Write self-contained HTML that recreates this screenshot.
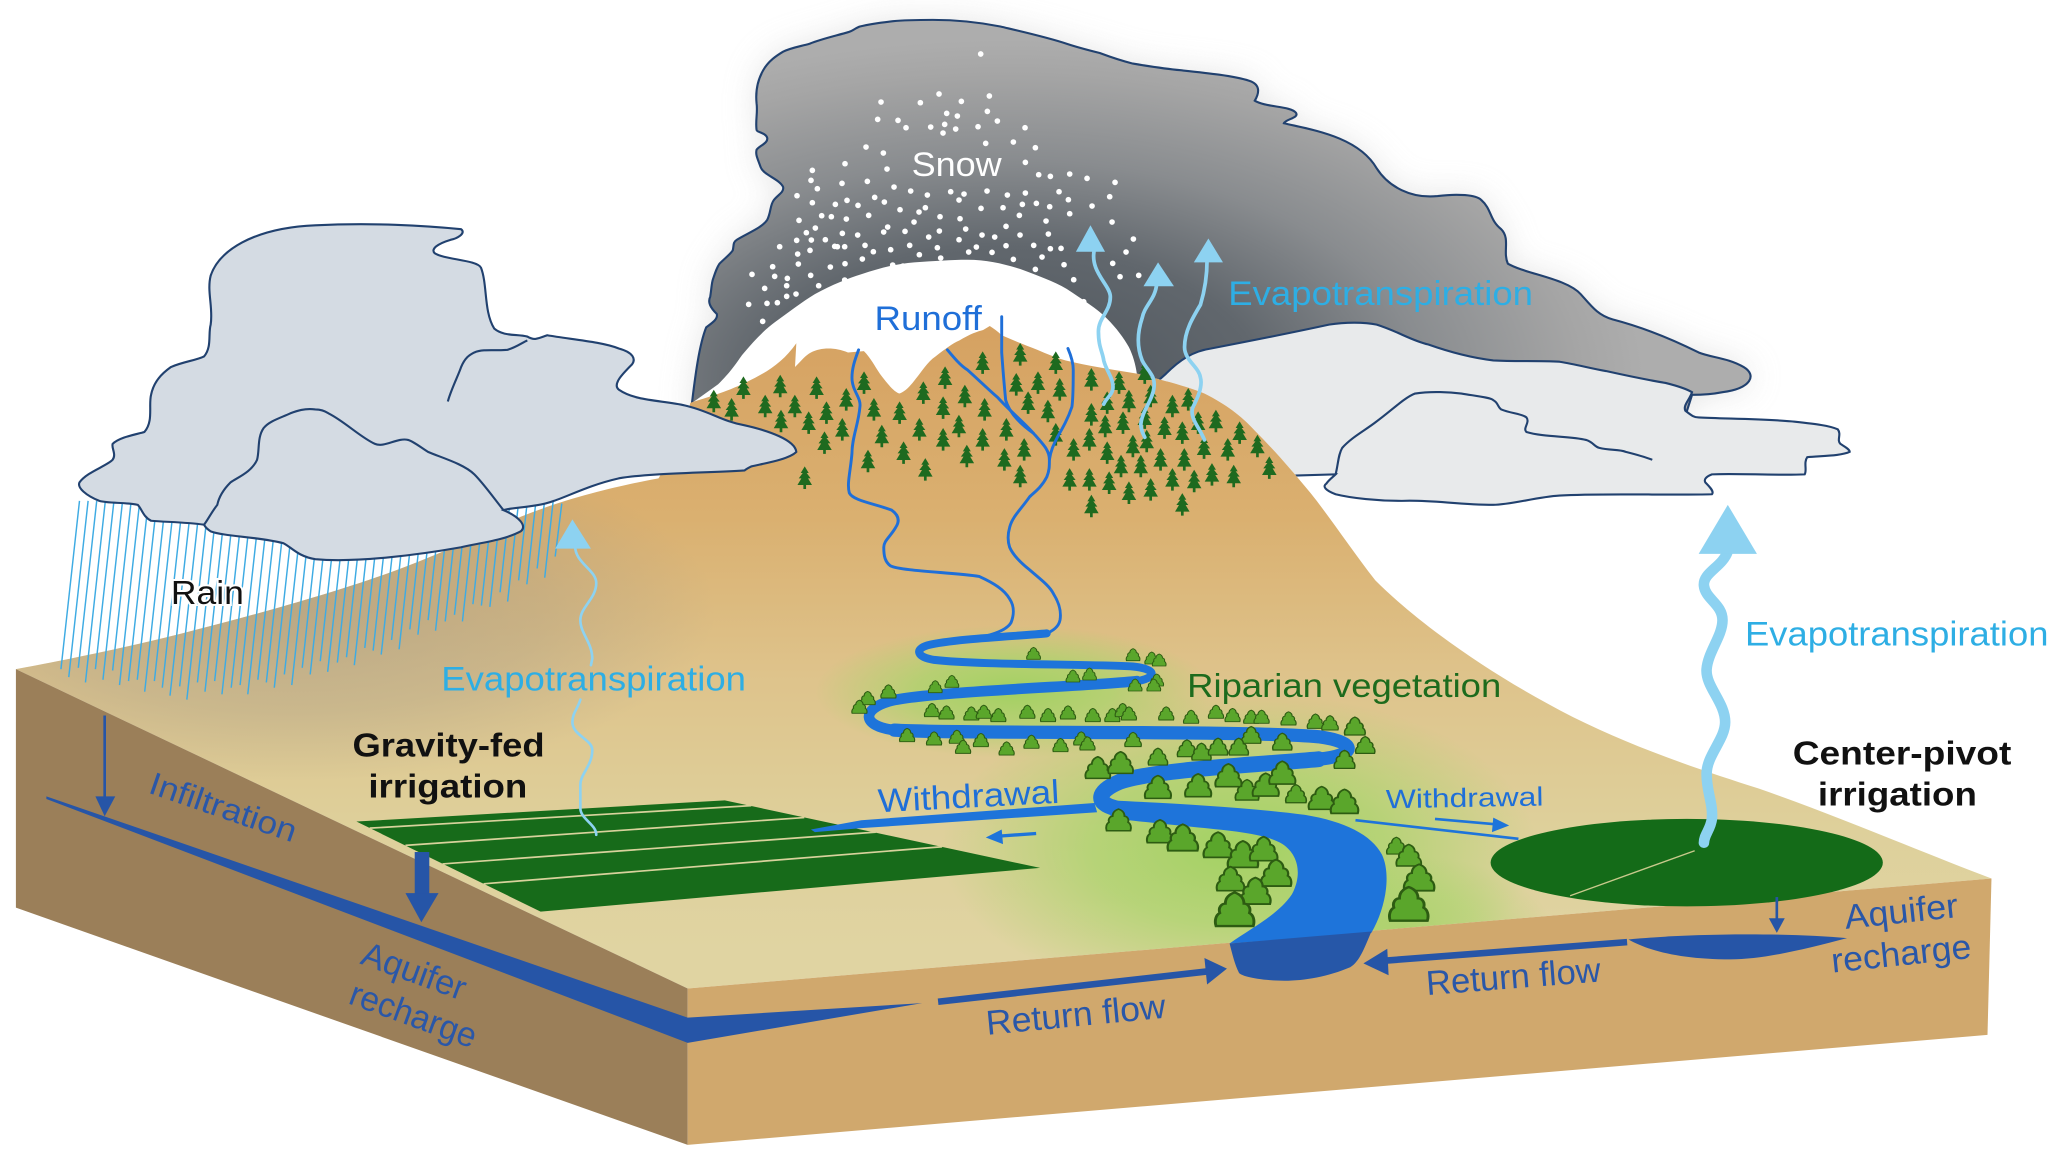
<!DOCTYPE html>
<html><head><meta charset="utf-8"><style>html,body{margin:0;padding:0;background:#fff;}svg{display:block;}</style></head>
<body>
<svg width="2067" height="1165" viewBox="0 0 1560 879.2" preserveAspectRatio="none" xmlns="http://www.w3.org/2000/svg" xmlns:xlink="http://www.w3.org/1999/xlink" font-family="'Liberation Sans', Arial, sans-serif">
<defs>
  <radialGradient id="dark" gradientUnits="userSpaceOnUse" cx="760" cy="290" r="260" gradientTransform="translate(760,290) scale(1.85,1) translate(-760,-290)">
    <stop offset="0" stop-color="#4d545b"/>
    <stop offset="0.4" stop-color="#61676d"/>
    <stop offset="0.65" stop-color="#898c8f"/>
    <stop offset="0.9" stop-color="#a5a5a5"/>
    <stop offset="1" stop-color="#adadad"/>
  </radialGradient>
  <linearGradient id="land" gradientUnits="userSpaceOnUse" x1="0" y1="250" x2="0" y2="720">
    <stop offset="0" stop-color="#d6a262"/>
    <stop offset="0.3" stop-color="#dab070"/>
    <stop offset="0.55" stop-color="#dec38b"/>
    <stop offset="0.8" stop-color="#ded09b"/>
    <stop offset="1" stop-color="#e0d4a2"/>
  </linearGradient>
  <radialGradient id="rainsh">
    <stop offset="0" stop-color="#989488" stop-opacity="0.5"/>
    <stop offset="0.6" stop-color="#989488" stop-opacity="0.28"/>
    <stop offset="1" stop-color="#989488" stop-opacity="0"/>
  </radialGradient>
  <radialGradient id="glow">
    <stop offset="0" stop-color="#9fd15f" stop-opacity="0.95"/>
    <stop offset="0.5" stop-color="#a6d468" stop-opacity="0.7"/>
    <stop offset="1" stop-color="#a6d468" stop-opacity="0"/>
  </radialGradient>
  <filter id="blur" x="-20%" y="-20%" width="140%" height="140%"><feGaussianBlur stdDeviation="12"/></filter>
  <clipPath id="landclip">
    <path d="M12,505 C40,500 100,488 149,475 C200,462 260,445 300,430 C340,415 370,400 393,390 C430,375 470,366 497,361 L515,330 L521,305 L858,282 C870,285 895,291 909,297 C925,305 937,314 947,325 C962,340 975,355 989,372 C1005,392 1020,415 1038,438 C1070,470 1120,505 1168,531 C1220,560 1280,580 1327,595 C1390,617 1450,643 1503,663 L519,746 Z"/>
  </clipPath>
  <path id="tree" d="M0,-35.8 L-10.1,-15.9 L-5,-15.9 L-15.1,0 L-8.4,0 L-18.4,19.9 L-3.4,19.9 L-3.4,31.8 L3.4,31.8 L3.4,19.9 L18.4,19.9 L8.4,0 L15.1,0 L5,-15.9 L10.1,-15.9 Z"/>
  <path id="bush" d="M-32,0 C-35.2,-12 -32,-24 -25.6,-28 C-28.8,-40 -22.4,-48 -16,-48 C-16,-60 -9.6,-68 0,-72 C9.6,-68 16,-60 16,-48 C22.4,-48 28.8,-40 25.6,-28 C32,-24 35.2,-12 32,0 Z"/>
  <path id="dcloud" d="M522,306 C524,290 527,262 533,247 C537,244 542,241 541,237 C536,232 534,228 536,224 C537,218 537,214 538,211 C540,205 541,202 543,199 C547,195 551,192 553,189 C554,185 553,183 556,181 C564,176 575,172 579,166 C582,160 581,155 584,151 C587,147 592,145 591,141 C588,135 576,132 574,126 C572,120 570,117 571,113 C573,110 580,108 579,104 C578,100 571,100 571,98 C570,91 572,85 571,78 C570,68 572,60 576,53 C580,46 586,42 591,39 C597,36 604,35 611,33 C621,29 631,27 641,24 C644,23 646,21 649,20 C657,18 665,17 674,16 C684,15 694,15 704,15 C722,15 740,17 755,20 C772,24 790,28 805,33 C814,36 822,38 830,40 C838,43 847,46 855,48 C867,50 880,52 891,53 C910,55 930,57 943,61 C952,64 950,71 947,76 C955,81 974,80 978,85 C981,89 970,90 969,93 C990,98 1025,103 1039,127 C1048,141 1065,150 1085,148 C1100,146 1114,147 1118,151 C1126,158 1124,166 1133,173 C1140,180 1134,190 1138,199 C1152,207 1182,210 1193,222 C1201,231 1206,238 1217,241 C1240,247 1262,256 1282,266 C1292,270 1304,270 1316,277 C1326,283 1322,293 1300,296 C1290,298 1283,298 1277,298 L1270,320 L1000,320 L880,330 L700,330 L530,330 Z"/>
</defs>

<rect width="1560" height="880" fill="#fff"/>

<!-- dark storm cloud -->
<use xlink:href="#dcloud" fill="#cfcfcf" opacity="0.55" filter="url(#blur)"/>
<use xlink:href="#dcloud" fill="url(#dark)" stroke="#21416f" stroke-width="1.6"/>
<!-- snow dots -->
<g transform="translate(528.3,15.1) scale(0.2516)" fill="#fff">
<circle cx="842" cy="102" r="8.5"/><circle cx="717" cy="222" r="8.5"/><circle cx="868" cy="228" r="8.5"/><circle cx="543" cy="246" r="8.5"/><circle cx="661" cy="248" r="8.5"/><circle cx="784" cy="244" r="8.5"/>
<circle cx="740" cy="280" r="8.5"/><circle cx="772" cy="288" r="8.5"/><circle cx="862" cy="274" r="8.5"/><circle cx="533" cy="298" r="8.5"/><circle cx="594" cy="301" r="8.5"/><circle cx="892" cy="303" r="8.5"/><circle cx="618" cy="323" r="8.5"/><circle cx="692" cy="321" r="8.5"/><circle cx="734" cy="313" r="8.5"/><circle cx="767" cy="327" r="8.5"/><circle cx="729" cy="339" r="8.5"/><circle cx="834" cy="320" r="8.5"/><circle cx="975" cy="323" r="8.5"/>
<circle cx="857" cy="370" r="8.5"/><circle cx="940" cy="366" r="8.5"/><circle cx="498" cy="381" r="8.5"/><circle cx="550" cy="399" r="8.5"/><circle cx="1006" cy="383" r="8.5"/>
<circle cx="435" cy="431" r="8.5"/><circle cx="337" cy="451" r="8.5"/><circle cx="561" cy="447" r="8.5"/><circle cx="976" cy="427" r="8.5"/>
<circle cx="333" cy="481" r="8.5"/><circle cx="426" cy="490" r="8.5"/><circle cx="502" cy="484" r="8.5"/><circle cx="1016" cy="464" r="8.5"/><circle cx="1051" cy="469" r="8.5"/><circle cx="1109" cy="462" r="8.5"/><circle cx="1161" cy="475" r="8.5"/><circle cx="1245" cy="487" r="8.5"/>
<circle cx="352" cy="506" r="8.5"/><circle cx="291" cy="527" r="8.5"/><circle cx="582" cy="501" r="8.5"/><circle cx="632" cy="513" r="8.5"/><circle cx="682" cy="525" r="8.5"/><circle cx="524" cy="532" r="8.5"/><circle cx="752" cy="515" r="8.5"/><circle cx="792" cy="522" r="8.5"/><circle cx="861" cy="513" r="8.5"/><circle cx="922" cy="525" r="8.5"/><circle cx="976" cy="519" r="8.5"/><circle cx="1077" cy="515" r="8.5"/><circle cx="1229" cy="530" r="8.5"/>
<circle cx="337" cy="548" r="8.5"/><circle cx="406" cy="553" r="8.5"/><circle cx="441" cy="541" r="8.5"/><circle cx="474" cy="556" r="8.5"/><circle cx="553" cy="546" r="8.5"/><circle cx="777" cy="540" r="8.5"/><circle cx="1009" cy="550" r="8.5"/><circle cx="1049" cy="560" r="8.5"/><circle cx="1105" cy="539" r="8.5"/><circle cx="1176" cy="558" r="8.5"/>
<circle cx="600" cy="569" r="8.5"/><circle cx="657" cy="576" r="8.5"/><circle cx="676" cy="563" r="8.5"/><circle cx="843" cy="565" r="8.5"/><circle cx="909" cy="563" r="8.5"/><circle cx="967" cy="553" r="8.5"/>
<circle cx="297" cy="601" r="8.5"/><circle cx="365" cy="587" r="8.5"/><circle cx="394" cy="590" r="8.5"/><circle cx="439" cy="597" r="8.5"/><circle cx="506" cy="586" r="8.5"/><circle cx="720" cy="590" r="8.5"/><circle cx="780" cy="596" r="8.5"/><circle cx="958" cy="586" r="8.5"/><circle cx="1038" cy="603" r="8.5"/><circle cx="1109" cy="581" r="8.5"/><circle cx="1236" cy="606" r="8.5"/>
<circle cx="346" cy="624" r="8.5"/><circle cx="319" cy="638" r="8.5"/><circle cx="427" cy="640" r="8.5"/><circle cx="473" cy="645" r="8.5"/><circle cx="551" cy="636" r="8.5"/><circle cx="563" cy="621" r="8.5"/><circle cx="615" cy="634" r="8.5"/><circle cx="642" cy="606" r="8.5"/><circle cx="718" cy="633" r="8.5"/><circle cx="797" cy="627" r="8.5"/><circle cx="846" cy="645" r="8.5"/><circle cx="884" cy="651" r="8.5"/><circle cx="918" cy="619" r="8.5"/><circle cx="960" cy="645" r="8.5"/><circle cx="1045" cy="642" r="8.5"/>
<circle cx="290" cy="661" r="8.5"/><circle cx="334" cy="660" r="8.5"/><circle cx="376" cy="659" r="8.5"/><circle cx="412" cy="680" r="8.5"/><circle cx="434" cy="680" r="8.5"/><circle cx="495" cy="676" r="8.5"/><circle cx="572" cy="689" r="8.5"/><circle cx="629" cy="676" r="8.5"/><circle cx="686" cy="651" r="8.5"/><circle cx="712" cy="683" r="8.5"/><circle cx="777" cy="659" r="8.5"/><circle cx="829" cy="681" r="8.5"/><circle cx="876" cy="697" r="8.5"/><circle cx="918" cy="677" r="8.5"/><circle cx="1001" cy="676" r="8.5"/><circle cx="1051" cy="686" r="8.5"/><circle cx="1083" cy="685" r="8.5"/><circle cx="1300" cy="657" r="8.5"/>
<circle cx="239" cy="680" r="8.5"/><circle cx="293" cy="702" r="8.5"/><circle cx="330" cy="691" r="8.5"/><circle cx="404" cy="679" r="8.5"/><circle cx="487" cy="717" r="8.5"/><circle cx="520" cy="695" r="8.5"/><circle cx="658" cy="704" r="8.5"/><circle cx="722" cy="714" r="8.5"/><circle cx="806" cy="696" r="8.5"/><circle cx="940" cy="718" r="8.5"/><circle cx="1026" cy="711" r="8.5"/><circle cx="1092" cy="734" r="8.5"/><circle cx="1278" cy="696" r="8.5"/><circle cx="1238" cy="730" r="8.5"/>
<circle cx="218" cy="740" r="8.5"/><circle cx="295" cy="732" r="8.5"/><circle cx="391" cy="741" r="8.5"/><circle cx="435" cy="731" r="8.5"/><circle cx="578" cy="735" r="8.5"/><circle cx="609" cy="738" r="8.5"/><circle cx="1006" cy="748" r="8.5"/><circle cx="1121" cy="779" r="8.5"/><circle cx="1260" cy="770" r="8.5"/><circle cx="1316" cy="766" r="8.5"/>
<circle cx="156" cy="763" r="8.5"/><circle cx="224" cy="769" r="8.5"/><circle cx="262" cy="775" r="8.5"/><circle cx="332" cy="766" r="8.5"/><circle cx="545" cy="772" r="8.5"/><circle cx="969" cy="760" r="8.5"/>
<circle cx="194" cy="805" r="8.5"/><circle cx="260" cy="797" r="8.5"/><circle cx="356" cy="797" r="8.5"/><circle cx="413" cy="804" r="8.5"/><circle cx="434" cy="780" r="8.5"/><circle cx="483" cy="792" r="8.5"/><circle cx="1043" cy="801" r="8.5"/><circle cx="1077" cy="816" r="8.5"/>
<circle cx="146" cy="853" r="8.5"/><circle cx="201" cy="850" r="8.5"/><circle cx="232" cy="848" r="8.5"/><circle cx="260" cy="829" r="8.5"/><circle cx="288" cy="822" r="8.5"/><circle cx="1151" cy="845" r="8.5"/><circle cx="188" cy="904" r="8.5"/>
</g>

<!-- right light cloud -->
<path d="M860,300 L880,282 C890,272 900,265 914,263 C940,258 980,250 1003,245 C1015,243 1030,243 1039,245 C1055,250 1065,257 1078,260 C1095,266 1110,270 1127,272 C1145,273 1160,272 1177,273 C1190,275 1200,278 1212,280 C1230,284 1245,287 1257,289 C1265,291 1272,293 1277,296 C1275,302 1270,306 1272,310 C1276,313 1278,315 1282,315 C1300,316 1330,316 1352,318 C1370,320 1380,321 1387,324 C1390,328 1386,332 1389,335 C1392,337 1396,339 1396,341 C1390,344 1375,344 1364,345 C1361,349 1364,355 1362,358 C1340,359 1310,357 1292,358 C1287,360 1286,362 1287,364 C1290,367 1294,371 1292,373 C1260,374 1210,372 1177,374 C1160,375 1140,381 1127,381 C1100,381 1080,377 1058,378 C1040,378 1020,376 1008,373 C1000,370 998,367 1001,365 C1003,362 1006,360 1008,358 L974,359 L940,340 L880,310 Z" fill="#e8eaeb" stroke="#21416f" stroke-width="1.6"/>
<path d="M1008,358 C1010,350 1010,343 1013,338 C1020,330 1030,325 1039,318 C1050,310 1060,300 1068,297 C1080,295 1095,296 1103,297 C1115,299 1125,300 1127,302 C1131,304 1130,307 1133,309 C1140,312 1148,312 1152,315 C1155,319 1149,323 1152,326 C1165,330 1185,329 1197,332 C1203,334 1203,337 1207,338 C1215,340 1222,339 1227,341 C1235,343 1242,345 1247,347" fill="none" stroke="#21416f" stroke-width="1.6"/>

<!-- land / mountain -->
<path d="M12,505 C40,500 100,488 149,475 C200,462 260,445 300,430 C340,415 370,400 393,390 C430,375 470,366 497,361 L515,330 L521,305 C528,300 535,295 542,290 C552,280 555,275 560,268 C570,256 578,248 585,243 C595,236 605,228 615,222 C628,215 640,210 650,207 C665,202 677,199 690,198 C705,197 718,196 730,196 C745,196 757,199 770,203 C783,208 795,212 805,218 C817,226 828,233 835,240 C843,248 848,255 852,262 C855,268 857,275 858,282 C870,285 895,291 909,297 C925,305 937,314 947,325 C962,340 975,355 989,372 C1005,392 1020,415 1038,438 C1070,470 1120,505 1168,531 C1220,560 1280,580 1327,595 C1390,617 1450,643 1503,663 L519,746 Z" fill="#fff"/>
<path d="M12,505 C40,500 100,488 149,475 C200,462 260,445 300,430 C340,415 370,400 393,390 C430,375 470,366 497,361 L515,330 L521,304 C530,301 545,297 560,290 C575,283 590,275 601,259 L600,277 C605,272 608,268 612,266 C620,262 630,262 640,266 L652,265 C657,270 660,276 664,282 C670,290 675,296 679,297 C684,295 688,290 691,286 C696,280 700,273 706,269 C714,263 719,259 724,257 C732,252 738,250 742,249 L747,246 C750,248 753,250 756,253 C765,257 775,261 783,264 C790,267 797,270 804,272 C820,276 840,279 858,282 C870,285 895,291 909,297 C925,305 937,314 947,325 C962,340 975,355 989,372 C1005,392 1020,415 1038,438 C1070,470 1120,505 1168,531 C1220,560 1280,580 1327,595 C1390,617 1450,643 1503,663 L519,746 Z" fill="url(#land)"/>
<g clip-path="url(#landclip)">
  <ellipse cx="220" cy="460" rx="320" ry="130" fill="url(#rainsh)"/>
  <ellipse cx="935" cy="640" rx="225" ry="118" fill="url(#glow)"/>
  <ellipse cx="765" cy="522" rx="150" ry="50" fill="url(#glow)"/>
  <ellipse cx="1060" cy="700" rx="110" ry="55" fill="url(#glow)" opacity="0.7"/>
</g>

<!-- block faces -->
<polygon points="12,505 519,746 519,864 12,685" fill="#9b7f59"/>
<polygon points="519,746 1503,663 1500,781 519,864" fill="#d0a86d"/>

<!-- trees -->
<g transform="translate(520.8,166) scale(0.2984,0.2516)" fill="#1e6a1f">
<use xlink:href="#tree" x="60" y="545"/><use xlink:href="#tree" x="105" y="570"/><use xlink:href="#tree" x="135" y="505"/><use xlink:href="#tree" x="190" y="560"/><use xlink:href="#tree" x="228" y="500"/><use xlink:href="#tree" x="230" y="605"/><use xlink:href="#tree" x="265" y="560"/><use xlink:href="#tree" x="300" y="610"/><use xlink:href="#tree" x="290" y="775"/><use xlink:href="#tree" x="320" y="505"/><use xlink:href="#tree" x="345" y="580"/><use xlink:href="#tree" x="340" y="670"/><use xlink:href="#tree" x="385" y="630"/><use xlink:href="#tree" x="395" y="540"/><use xlink:href="#tree" x="440" y="490"/><use xlink:href="#tree" x="465" y="570"/><use xlink:href="#tree" x="485" y="650"/><use xlink:href="#tree" x="450" y="725"/><use xlink:href="#tree" x="530" y="580"/><use xlink:href="#tree" x="540" y="700"/><use xlink:href="#tree" x="580" y="630"/><use xlink:href="#tree" x="590" y="520"/><use xlink:href="#tree" x="595" y="750"/><use xlink:href="#tree" x="640" y="660"/><use xlink:href="#tree" x="645" y="475"/><use xlink:href="#tree" x="640" y="565"/><use xlink:href="#tree" x="680" y="620"/><use xlink:href="#tree" x="695" y="530"/><use xlink:href="#tree" x="700" y="710"/><use xlink:href="#tree" x="740" y="660"/><use xlink:href="#tree" x="745" y="570"/><use xlink:href="#tree" x="740" y="430"/><use xlink:href="#tree" x="795" y="720"/><use xlink:href="#tree" x="800" y="630"/><use xlink:href="#tree" x="835" y="405"/><use xlink:href="#tree" x="825" y="495"/><use xlink:href="#tree" x="845" y="690"/><use xlink:href="#tree" x="835" y="770"/><use xlink:href="#tree" x="855" y="550"/><use xlink:href="#tree" x="880" y="490"/><use xlink:href="#tree" x="905" y="575"/><use xlink:href="#tree" x="925" y="430"/><use xlink:href="#tree" x="935" y="510"/><use xlink:href="#tree" x="925" y="645"/><use xlink:href="#tree" x="970" y="690"/><use xlink:href="#tree" x="960" y="780"/><use xlink:href="#tree" x="1010" y="780"/><use xlink:href="#tree" x="1010" y="660"/><use xlink:href="#tree" x="1015" y="585"/><use xlink:href="#tree" x="1015" y="480"/><use xlink:href="#tree" x="1050" y="620"/><use xlink:href="#tree" x="1055" y="700"/><use xlink:href="#tree" x="1055" y="550"/><use xlink:href="#tree" x="1060" y="790"/><use xlink:href="#tree" x="1085" y="490"/><use xlink:href="#tree" x="1090" y="740"/><use xlink:href="#tree" x="1095" y="610"/><use xlink:href="#tree" x="1110" y="545"/><use xlink:href="#tree" x="1110" y="820"/><use xlink:href="#tree" x="1120" y="680"/><use xlink:href="#tree" x="1140" y="740"/><use xlink:href="#tree" x="1150" y="460"/><use xlink:href="#tree" x="1150" y="595"/><use xlink:href="#tree" x="1155" y="665"/><use xlink:href="#tree" x="1165" y="530"/><use xlink:href="#tree" x="1165" y="810"/><use xlink:href="#tree" x="1190" y="720"/><use xlink:href="#tree" x="1200" y="625"/><use xlink:href="#tree" x="1220" y="560"/><use xlink:href="#tree" x="1220" y="780"/><use xlink:href="#tree" x="1245" y="640"/><use xlink:href="#tree" x="1250" y="720"/><use xlink:href="#tree" x="1245" y="855"/><use xlink:href="#tree" x="1260" y="540"/><use xlink:href="#tree" x="1275" y="785"/><use xlink:href="#tree" x="1285" y="610"/><use xlink:href="#tree" x="1300" y="685"/><use xlink:href="#tree" x="1320" y="765"/><use xlink:href="#tree" x="1330" y="605"/><use xlink:href="#tree" x="1360" y="690"/><use xlink:href="#tree" x="1375" y="770"/><use xlink:href="#tree" x="1390" y="640"/><use xlink:href="#tree" x="1435" y="680"/><use xlink:href="#tree" x="1465" y="745"/><use xlink:href="#tree" x="1015" y="860"/>
</g>

<!-- runoff streams -->
<g fill="none" stroke="#1f6fd8" stroke-width="2.2" stroke-linecap="round">
  <path d="M648,264 C645,272 643,278 643,285 C643,295 650,300 649,307 C648,320 643,330 643,342 C642,355 639,365 641,372 C644,378 660,380 673,385 C680,390 678,395 676,398 C672,405 667,408 667,413 C667,420 668,424 672,427 C680,431 720,432 739,435 C750,440 758,445 762,452 C766,458 765,465 763,470 C760,475 752,478 744,480"/>
  <path d="M715,264 C720,270 725,276 730,279 C740,288 747,295 753,300 C762,310 772,318 780,327 C788,336 792,340 792,347 C792,352 792,355 790,360 C786,368 780,372 777,375 C770,385 764,390 762,398 C760,405 761,410 762,413 C765,420 772,426 777,430 C785,437 792,442 795,448 C800,456 801,462 800,468 C799,473 795,476 788,479"/>
  <path d="M756,239 L756,266 C757,280 758,292 759,302 C762,312 770,320 780,327"/>
  <path d="M806,263 C809,270 810,275 810,279 C810,290 810,300 809,307 C806,316 802,323 798,330 C795,336 793,340 792,347"/>
</g>

<!-- river -->
<g fill="none" stroke="#1e74da" stroke-linecap="round" stroke-linejoin="round">
  <path d="M790,478 C770,480 720,482 700,487 C690,490 692,496 705,498 C740,502 820,501 855,503 C875,505 872,512 858,514" stroke-width="6"/>
  <path d="M858,514 C820,518 700,522 672,529 C650,535 650,548 675,551" stroke-width="8"/>
  <path d="M675,551 C720,554 940,551 995,556 C1025,560 1025,570 995,573" stroke-width="10"/>
  <path d="M995,573 C950,577 870,581 845,590 C828,597 826,606 842,610" stroke-width="12"/>
</g>
<path d="M838,604 C880,606 940,609 985,615 C1015,620 1035,630 1043,645 C1050,660 1046,685 1035,704 L928,712 C945,700 965,690 975,675 C983,660 980,645 968,637 C955,629 930,627 900,624 C870,621 850,619 838,617 Z" fill="#1e74da"/>
<path d="M928,712 L1035,703 C1030,715 1026,726 1019,730 C1000,738 980,741 963,740 C945,739 936,736 935,734 C932,728 930,720 928,712 Z" fill="#2657a8"/>

<!-- bushes -->
<g transform="translate(618.9,467.9) scale(0.3129,0.2516)" fill="#5aa62b" stroke="#2d5c12" stroke-width="5">
<use xlink:href="#bush" transform="translate(515,118) scale(0.5)"/><use xlink:href="#bush" transform="translate(755,122) scale(0.5)"/><use xlink:href="#bush" transform="translate(800,132) scale(0.5)"/><use xlink:href="#bush" transform="translate(818,138) scale(0.5)"/><use xlink:href="#bush" transform="translate(610,186) scale(0.5)"/><use xlink:href="#bush" transform="translate(650,180) scale(0.5)"/><use xlink:href="#bush" transform="translate(278,218) scale(0.5)"/><use xlink:href="#bush" transform="translate(318,202) scale(0.5)"/><use xlink:href="#bush" transform="translate(165,234) scale(0.55)"/><use xlink:href="#bush" transform="translate(115,254) scale(0.55)"/><use xlink:href="#bush" transform="translate(95,280) scale(0.55)"/><use xlink:href="#bush" transform="translate(812,198) scale(0.5)"/><use xlink:href="#bush" transform="translate(760,213) scale(0.5)"/><use xlink:href="#bush" transform="translate(805,213) scale(0.5)"/><use xlink:href="#bush" transform="translate(270,290) scale(0.55)"/><use xlink:href="#bush" transform="translate(305,297) scale(0.55)"/><use xlink:href="#bush" transform="translate(365,300) scale(0.55)"/><use xlink:href="#bush" transform="translate(395,295) scale(0.55)"/><use xlink:href="#bush" transform="translate(430,305) scale(0.55)"/><use xlink:href="#bush" transform="translate(500,295) scale(0.55)"/><use xlink:href="#bush" transform="translate(550,305) scale(0.55)"/><use xlink:href="#bush" transform="translate(598,297) scale(0.55)"/><use xlink:href="#bush" transform="translate(658,305) scale(0.55)"/><use xlink:href="#bush" transform="translate(705,305) scale(0.55)"/><use xlink:href="#bush" transform="translate(730,290) scale(0.55)"/><use xlink:href="#bush" transform="translate(745,300) scale(0.55)"/><use xlink:href="#bush" transform="translate(835,300) scale(0.55)"/><use xlink:href="#bush" transform="translate(895,310) scale(0.55)"/><use xlink:href="#bush" transform="translate(955,295) scale(0.55)"/><use xlink:href="#bush" transform="translate(995,305) scale(0.55)"/><use xlink:href="#bush" transform="translate(1040,310) scale(0.55)"/><use xlink:href="#bush" transform="translate(1065,310) scale(0.55)"/><use xlink:href="#bush" transform="translate(1130,315) scale(0.55)"/><use xlink:href="#bush" transform="translate(1195,325) scale(0.6)"/><use xlink:href="#bush" transform="translate(1230,330) scale(0.6)"/><use xlink:href="#bush" transform="translate(210,365) scale(0.55)"/><use xlink:href="#bush" transform="translate(275,375) scale(0.55)"/><use xlink:href="#bush" transform="translate(330,370) scale(0.55)"/><use xlink:href="#bush" transform="translate(345,400) scale(0.55)"/><use xlink:href="#bush" transform="translate(388,380) scale(0.55)"/><use xlink:href="#bush" transform="translate(450,405) scale(0.55)"/><use xlink:href="#bush" transform="translate(510,385) scale(0.55)"/><use xlink:href="#bush" transform="translate(580,395) scale(0.55)"/><use xlink:href="#bush" transform="translate(630,375) scale(0.55)"/><use xlink:href="#bush" transform="translate(645,390) scale(0.55)"/>
<use xlink:href="#bush" transform="translate(1040,370) scale(0.7)"/><use xlink:href="#bush" transform="translate(1115,390) scale(0.7)"/><use xlink:href="#bush" transform="translate(1315,400) scale(0.7)"/><use xlink:href="#bush" transform="translate(1265,445) scale(0.75)"/><use xlink:href="#bush" transform="translate(1290,345) scale(0.75)"/><use xlink:href="#bush" transform="translate(885,410) scale(0.7)"/><use xlink:href="#bush" transform="translate(920,420) scale(0.7)"/><use xlink:href="#bush" transform="translate(960,405) scale(0.7)"/><use xlink:href="#bush" transform="translate(1010,405) scale(0.7)"/><use xlink:href="#bush" transform="translate(815,435) scale(0.7)"/><use xlink:href="#bush" transform="translate(755,380) scale(0.6)"/>
<use xlink:href="#bush" transform="translate(670,475) scale(0.9)"/><use xlink:href="#bush" transform="translate(725,460) scale(0.9)"/><use xlink:href="#bush" transform="translate(815,535) scale(0.95)"/><use xlink:href="#bush" transform="translate(912,530) scale(0.95)"/><use xlink:href="#bush" transform="translate(985,500) scale(0.95)"/><use xlink:href="#bush" transform="translate(1030,540) scale(0.85)"/><use xlink:href="#bush" transform="translate(1075,528) scale(0.95)"/><use xlink:href="#bush" transform="translate(1115,492) scale(0.95)"/><use xlink:href="#bush" transform="translate(1148,548) scale(0.75)"/><use xlink:href="#bush" transform="translate(1210,568) scale(0.95)"/><use xlink:href="#bush" transform="translate(1265,580) scale(1)"/><use xlink:href="#bush" transform="translate(720,632) scale(0.9)"/><use xlink:href="#bush" transform="translate(820,668) scale(0.95)"/><use xlink:href="#bush" transform="translate(875,692) scale(1.1)"/><use xlink:href="#bush" transform="translate(960,712) scale(1.05)"/><use xlink:href="#bush" transform="translate(1020,742) scale(1.1)"/><use xlink:href="#bush" transform="translate(1070,722) scale(1)"/><use xlink:href="#bush" transform="translate(1100,798) scale(1.1)"/><use xlink:href="#bush" transform="translate(990,812) scale(1)"/><use xlink:href="#bush" transform="translate(1050,852) scale(1.1)"/><use xlink:href="#bush" transform="translate(1000,918) scale(1.4)"/><use xlink:href="#bush" transform="translate(1390,702) scale(0.7)"/><use xlink:href="#bush" transform="translate(1420,738) scale(0.9)"/><use xlink:href="#bush" transform="translate(1445,812) scale(1.1)"/><use xlink:href="#bush" transform="translate(1420,902) scale(1.4)"/>
</g>

<!-- gravity-fed field -->
<polygon points="269,620 547,604 785,655 408,688" fill="#176b1a"/>
<g stroke="#d8d29c" stroke-width="1.3">
  <line x1="279" y1="625" x2="567" y2="608"/>
  <line x1="306" y1="638" x2="607" y2="617"/>
  <line x1="334" y1="652" x2="661" y2="628"/>
  <line x1="365" y1="667" x2="711" y2="639"/>
</g>
<polygon points="612,626 650,619 826,606 828,613 650,625 615,628" fill="#1e74da"/>
<line x1="782" y1="629" x2="754" y2="631" stroke="#1e74da" stroke-width="2.5"/>
<polygon points="744,632 756,626 757,637" fill="#1e74da"/>
<!-- center pivot -->
<ellipse cx="1273" cy="651" rx="148" ry="33" fill="#146b18"/>
<line x1="1279" y1="642" x2="1185" y2="676" stroke="#c9c98c" stroke-width="1"/>
<line x1="1023" y1="619" x2="1146" y2="633" stroke="#1e74da" stroke-width="2"/>
<line x1="1083" y1="618" x2="1128" y2="622" stroke="#1e74da" stroke-width="2"/>
<polygon points="1139,623 1127,617 1126,628" fill="#1e74da"/>

<!-- rain -->
<path stroke="#3eabe3" stroke-width="1.1" fill="none" d="M60,378L46,505M66.5,378L51.9,511M73,378L59.1,504M79.5,378L64.5,515M86,378L72,505M92.5,378L77.7,513M99,378L85,506M105.5,378L90.2,517M112,378L97,514M118.5,378L103.6,513M125,378L109.2,522M131.5,378L116.5,514M138,378L122.5,519M144.5,378L128.3,525M151,378L135.6,518M157.5,378L141,528M164,378L149,515M170.5,378L154.7,522M177,378L162,514M183.5,378L167.5,524M190,378L174.5,519M196.5,378L181.2,517M203,378L187,524M209.5,378L194.6,513M216,378L201,515M222.5,378L207,519M229,378L214.6,509M235.5,378L220.2,517M242,378L228.1,504M248.5,378L234.1,509M255,378L241.7,499M261.5,378L247.3,507M268,378L254.6,500M274.5,378L261.5,496M281,378L267.4,502M287.5,378L275.3,489M294,378L281.6,491M300.5,378L287.7,494M307,378L295.5,483M313.5,378L301.2,490M320,378L309.3,475M326.5,378L315.4,479M333,378L323.1,468M339.5,378L328.7,476M346,378L336,469M352.5,378L343,464M359,378L349,469M365.5,378L356.9,456M372,378L363.3,457M378.5,378L369.7,458M385,378L377.4,447M391.5,378L383.1,454M398,378L391.4,438M404.5,378L397.6,441M411,378L405.4,429M417.5,378L411.1,436M424,380L419,420"/>

<!-- left cloud -->
<path d="M159,208 C165,190 190,172 238,170 C280,168 320,170 348,173 C352,176 345,180 340,181 C330,184 325,188 328,191 C335,196 360,196 363,202 C368,215 365,235 373,248 C380,254 390,252 398,254 C403,257 405,256 413,253 C430,256 455,258 467,263 C478,266 480,271 477,275 C470,282 462,290 467,294 C480,303 500,302 517,306 C535,310 545,318 562,321 C580,325 600,332 601,341 C595,347 575,350 567,352 C563,354 562,355 562,355 C530,357 490,357 467,361 C445,366 430,374 418,378 C405,383 385,383 380,385 C392,390 398,397 393,401 C380,408 360,410 348,413 C320,418 270,425 238,422 C225,420 220,413 214,410 C195,405 170,405 159,401 C156,399 155,398 154,396 C140,394 125,394 114,393 C108,390 107,384 104,381 C95,379 82,380 75,378 C65,374 58,368 60,364 C66,356 80,352 85,347 C88,343 84,338 85,335 C90,330 102,328 109,326 C116,318 112,306 114,298 C116,288 122,282 129,277 C138,273 148,272 154,269 C160,262 157,252 159,245 C161,232 156,220 159,208 Z" fill="#d4dbe3" stroke="#21416f" stroke-width="1.6"/>
<path d="M380,385 C372,375 365,365 358,358 C350,350 332,345 323,341 C318,338 312,333 308,332 C300,330 290,338 283,335 C272,330 260,318 248,312 C245,310 242,309 238,309 C230,308 224,310 219,312 C210,316 203,318 199,323 C194,330 196,340 194,347 C190,356 180,360 174,364 C168,370 165,376 164,381 C160,386 157,392 154,396" fill="none" stroke="#21416f" stroke-width="1.6"/>
<path d="M338,303 C340,295 346,283 348,277 C351,270 354,268 358,266 C365,263 375,265 383,264 C390,262 395,258 398,257" fill="none" stroke="#21416f" stroke-width="1.6"/>

<!-- evapotranspiration arrows -->
<g fill="none" stroke="#8dd2f1" stroke-width="2.8" stroke-linecap="round">
  <path d="M826,188 C822,205 838,215 838,224 C838,235 829,240 829,250 C829,262 832,265 833,272 C835,280 840,285 840,292 C840,298 835,300 833,305"/>
  <path d="M873,214 C872,226 864,230 862,240 C858,252 858,262 862,272 C866,280 872,283 871,292 C870,302 862,310 861,320 C861,325 863,328 864,330"/>
  <path d="M911,196 C911,210 909,220 906,230 C900,240 894,250 894,262 C894,272 905,277 906,285 C908,292 903,302 900,308 C898,316 905,322 909,332"/>
  <path d="M434,412 C434,425 450,430 450,440 C450,452 438,458 438,468 C438,478 447,485 447,497 L446,502" stroke-width="2"/>
  <path d="M438,528 C436,535 432,538 432,545 C432,555 447,558 447,566 C447,578 438,584 438,592 C438,600 438,604 438,610 C438,618 450,622 450,630" stroke-width="2"/>
  <path d="M1304,416 C1300,428 1285,432 1286,442 C1287,452 1300,456 1300,468 C1300,480 1289,492 1288,505 C1287,518 1302,530 1302,545 C1302,558 1288,570 1288,584 C1288,598 1293,606 1292,618 C1291,626 1286,630 1286,636" stroke-width="8"/>
</g>
<g fill="#8dd2f1">
  <polygon points="823,170 812,190 834,190"/>
  <polygon points="874,198 863,216 886,216"/>
  <polygon points="912,180 901,198 923,198"/>
  <polygon points="432,392 419,414 446,414"/>
  <polygon points="1304,381 1282,418 1326,418"/>
</g>

<!-- groundwater -->
<polygon points="35,601 519,768 696,757 519,787 35,603" fill="#2655a7"/>
<line x1="708" y1="756" x2="912" y2="733" stroke="#2655a7" stroke-width="5"/>
<polygon points="926,731 909,723 911,743" fill="#2655a7"/>
<line x1="1045" y1="725" x2="1228" y2="711" stroke="#2655a7" stroke-width="5"/>
<polygon points="1029,727 1047,716 1048,736" fill="#2655a7"/>
<path d="M1229,709 C1280,704 1350,704 1394,708 C1360,717 1330,724 1306,724 C1270,724 1245,718 1229,709 Z" fill="#2655a7"/>
<line x1="1341" y1="677" x2="1341" y2="695" stroke="#2655a7" stroke-width="2"/>
<polygon points="1335,693 1347,693 1341,704" fill="#2655a7"/>
<rect x="313" y="643" width="11" height="33" fill="#2655a7"/>
<polygon points="306,674 331,674 318,696" fill="#2655a7"/>
<line x1="79" y1="540" x2="79" y2="604" stroke="#2655a7" stroke-width="2"/>
<polygon points="72,601 87,601 79,616" fill="#2655a7"/>

<!-- labels -->
<text x="688" y="133" font-size="26" fill="#ffffff" textLength="68" lengthAdjust="spacingAndGlyphs">Snow</text>
<text x="660" y="249" font-size="26" fill="#1f6fd8" textLength="81" lengthAdjust="spacingAndGlyphs">Runoff</text>
<text x="927" y="230" font-size="26" fill="#2eaee4" textLength="230" lengthAdjust="spacingAndGlyphs">Evapotranspiration</text>
<text x="129" y="456" font-size="25" fill="#111" stroke="#fff" stroke-width="3" paint-order="stroke" textLength="55" lengthAdjust="spacingAndGlyphs">Rain</text>
<text x="333" y="521" font-size="26" fill="#2eaee4" textLength="230" lengthAdjust="spacingAndGlyphs">Evapotranspiration</text>
<text x="1317" y="487" font-size="26" fill="#2eaee4" textLength="229" lengthAdjust="spacingAndGlyphs">Evapotranspiration</text>
<text x="896" y="526" font-size="25" fill="#1d6b1d" textLength="237" lengthAdjust="spacingAndGlyphs">Riparian vegetation</text>
<text x="266" y="571" font-size="25" font-weight="bold" fill="#111" textLength="145" lengthAdjust="spacingAndGlyphs">Gravity-fed</text>
<text x="278" y="602" font-size="25" font-weight="bold" fill="#111" textLength="120" lengthAdjust="spacingAndGlyphs">irrigation</text>
<text x="1353" y="577" font-size="25" font-weight="bold" fill="#111" textLength="165" lengthAdjust="spacingAndGlyphs">Center-pivot</text>
<text x="1372" y="608" font-size="25" font-weight="bold" fill="#111" textLength="120" lengthAdjust="spacingAndGlyphs">irrigation</text>
<text transform="translate(663,613) rotate(-3)" font-size="25" fill="#1f6fd8" textLength="137" lengthAdjust="spacingAndGlyphs">Withdrawal</text>
<text transform="translate(1046,610) rotate(-1)" font-size="20" fill="#1f6fd8" textLength="119" lengthAdjust="spacingAndGlyphs">Withdrawal</text>
<text transform="translate(111,598) rotate(19)" font-size="24" fill="#2a57a8" textLength="116" lengthAdjust="spacingAndGlyphs">Infiltration</text>
<text transform="translate(271,727) rotate(20)" font-size="26" fill="#2a57a8" textLength="82" lengthAdjust="spacingAndGlyphs">Aquifer</text>
<text transform="translate(262,757) rotate(20)" font-size="26" fill="#2a57a8" textLength="100" lengthAdjust="spacingAndGlyphs">recharge</text>
<text transform="translate(745,781) rotate(-5.5)" font-size="26" fill="#2a57a8" textLength="136" lengthAdjust="spacingAndGlyphs">Return flow</text>
<text transform="translate(1077,751) rotate(-4.5)" font-size="26" fill="#2a57a8" textLength="132" lengthAdjust="spacingAndGlyphs">Return flow</text>
<text transform="translate(1393,701) rotate(-6)" font-size="26" fill="#2a57a8" textLength="86" lengthAdjust="spacingAndGlyphs">Aquifer</text>
<text transform="translate(1383,734) rotate(-6)" font-size="26" fill="#2a57a8" textLength="106" lengthAdjust="spacingAndGlyphs">recharge</text>
</svg>
</body></html>
